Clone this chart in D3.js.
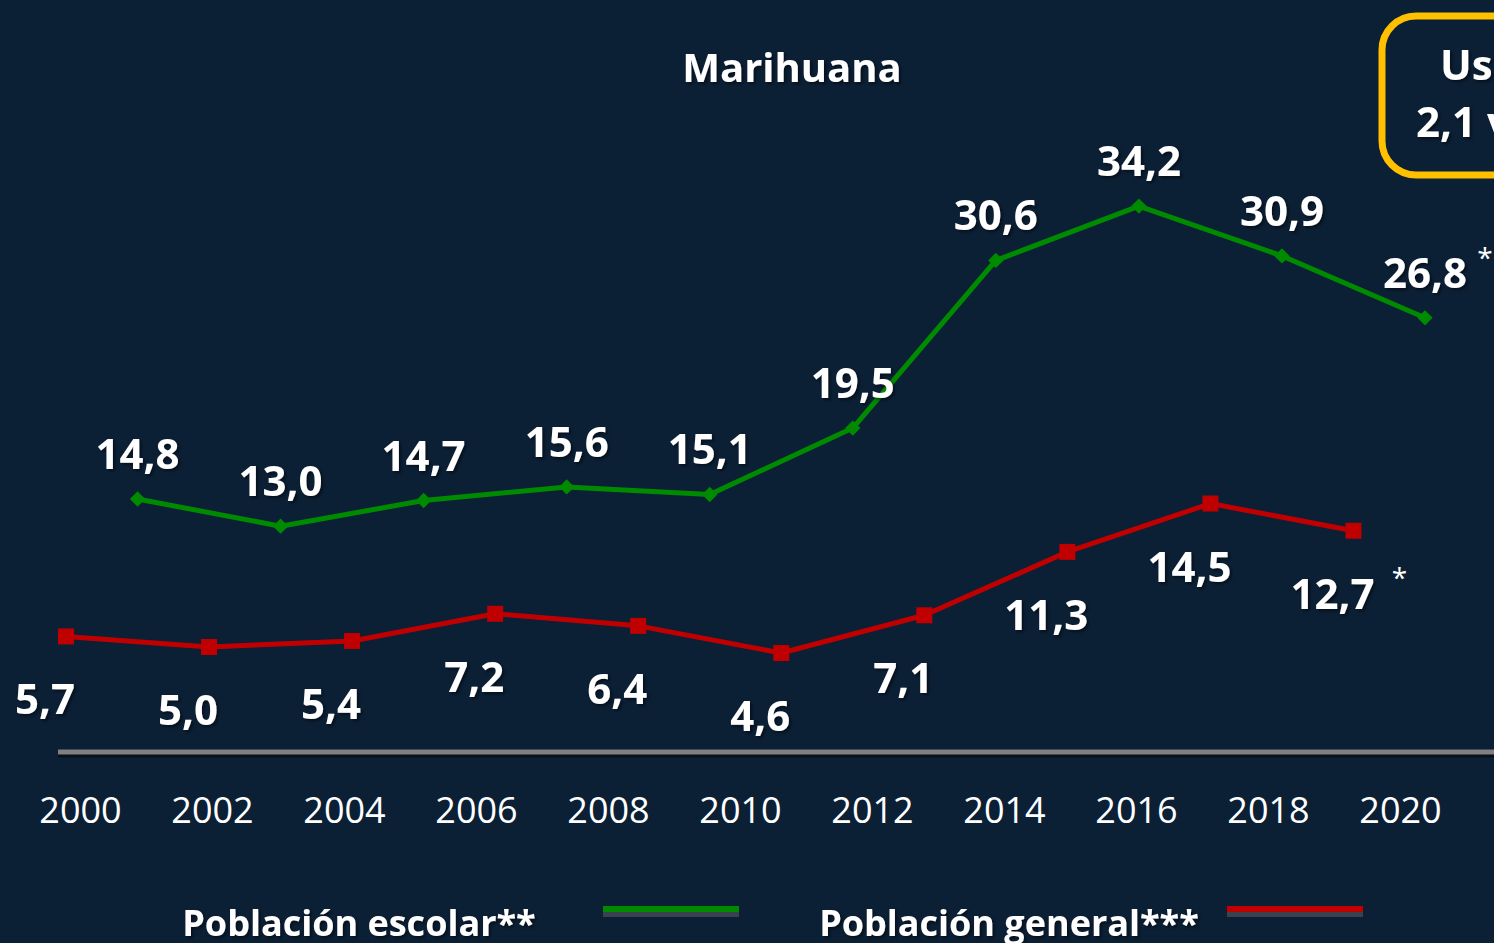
<!DOCTYPE html>
<html>
<head>
<meta charset="utf-8">
<script src="https://cdn.jsdelivr.net/npm/d3@7"></script>
<style>
  body { margin: 0; background: #0b1f35; }
  svg { display: block; }
  text { font-family: "Open Sans", sans-serif; fill: #fff; }
</style>
</head>
<body>
<div id="chart"></div>
<script>
const width = 1494, height = 943;

// data
const escolarYears = [2001, 2003, 2005, 2007, 2009, 2011, 2013, 2015, 2017, 2019];
const escolarValues = [14.8, 13.0, 14.7, 15.6, 15.1, 19.5, 30.6, 34.2, 30.9, 26.8];
const generalYears = [2000, 2002, 2004, 2006, 2008, 2010, 2012, 2014, 2016, 2018];
const generalValues = [5.7, 5.0, 5.4, 7.2, 6.4, 4.6, 7.1, 11.3, 14.5, 12.7];
const tickLabels = ['2000', '2002', '2004', '2006', '2008', '2010', '2012', '2014', '2016', '2018', '2020'];
const legendLabels = ['Población escolar**', 'Población general***'];

const green = '#008a00', red = '#c00000';
const fmt = v => d3.format('.1f')(v).replace('.', ',');

const svg = d3.select('#chart').append('svg')
    .attr('width', width)
    .attr('height', height);

svg.append('rect').attr('width', width).attr('height', height).attr('fill', '#0b1f35');

const defs = svg.append('defs');
defs.append('filter').attr('id', 'shadow')
    .attr('x', '-20%').attr('y', '-20%').attr('width', '140%').attr('height', '160%')
  .append('feDropShadow')
    .attr('dx', 2).attr('dy', 2).attr('stdDeviation', 1.5)
    .attr('flood-color', '#000').attr('flood-opacity', 0.5);

// scales
const x = d3.scaleLinear().domain([2000, 2019]).range([66, 1425]);
const y = d3.scaleLinear().domain([0, 40]).range([722.5, 118.5]);
const xTick = d3.scalePoint().domain(tickLabels).range([80, 1400]);

// title
svg.append('text')
    .attr('x', 792).attr('y', 82)
    .attr('text-anchor', 'middle')
    .attr('font-size', 40).attr('font-weight', 700)
    .attr('filter', 'url(#shadow)')
    .text('Marihuana');

// callout box (cut off at right edge, as in the original slide)
svg.append('rect')
    .attr('x', 1382).attr('y', 16)
    .attr('width', 260).attr('height', 159)
    .attr('rx', 34)
    .attr('fill', 'none')
    .attr('stroke', '#ffc000').attr('stroke-width', 7);
svg.append('text')
    .attr('x', 1440).attr('y', 80)
    .attr('font-size', 42).attr('font-weight', 700)
    .attr('filter', 'url(#shadow)')
    .text('Uso escolar');
svg.append('text')
    .attr('x', 1416).attr('y', 137)
    .attr('font-size', 42).attr('font-weight', 700)
    .attr('filter', 'url(#shadow)')
    .text('2,1 veces mayor');

// baseline axis
const axis = svg.append('g')
    .attr('transform', `translate(0,752)`)
    .call(d3.axisBottom(xTick).tickSize(0).tickPadding(45));
axis.select('.domain').remove();
axis.insert('line', ':first-child')
    .attr('x1', 58).attr('x2', width)
    .attr('y1', 3).attr('y2', 3)
    .attr('stroke', '#000').attr('stroke-opacity', 0.45).attr('stroke-width', 5);
axis.append('line')
    .attr('x1', 58).attr('x2', width)
    .attr('stroke', '#808080').attr('stroke-width', 5);
axis.selectAll('.tick text')
    .attr('font-size', 36)
    .attr('font-family', '"Open Sans", sans-serif')
    .attr('fill', '#fff')
    .attr('dy', '0.71em');

const line = d3.line().x(d => x(d[0])).y(d => y(d[1]));
const escolar = d3.zip(escolarYears, escolarValues);
const general = d3.zip(generalYears, generalValues);

// general (red)
svg.append('path')
    .datum(general)
    .attr('d', line)
    .attr('fill', 'none')
    .attr('stroke', red).attr('stroke-width', 5)
    .attr('stroke-linejoin', 'round');
svg.append('g').selectAll('rect')
    .data(general)
    .join('rect')
    .attr('x', d => x(d[0]) - 8).attr('y', d => y(d[1]) - 8)
    .attr('width', 16).attr('height', 16)
    .attr('fill', red);

// escolar (green)
svg.append('path')
    .datum(escolar)
    .attr('d', line)
    .attr('fill', 'none')
    .attr('stroke', green).attr('stroke-width', 5)
    .attr('stroke-linejoin', 'round');
svg.append('g').selectAll('path')
    .data(escolar)
    .join('path')
    .attr('d', d3.symbol(d3.symbolDiamond2, 150))
    .attr('transform', d => `translate(${x(d[0])},${y(d[1])})`)
    .attr('fill', green);

// value labels
svg.append('g').selectAll('text')
    .data(escolar)
    .join('text')
    .attr('x', d => x(d[0]))
    .attr('y', d => y(d[1]) - 30)
    .attr('text-anchor', 'middle')
    .attr('font-size', 42).attr('font-weight', 700)
    .attr('filter', 'url(#shadow)')
    .text(d => fmt(d[1]));

svg.append('g').selectAll('text')
    .data(general)
    .join('text')
    .attr('x', d => x(d[0]) - 21)
    .attr('y', d => y(d[1]) + 78)
    .attr('text-anchor', 'middle')
    .attr('font-size', 42).attr('font-weight', 700)
    .attr('filter', 'url(#shadow)')
    .text(d => fmt(d[1]));

// footnote asterisks on last points
const lastE = escolar[escolar.length - 1], lastG = general[general.length - 1];
svg.append('text')
    .attr('x', x(lastE[0]) + 60).attr('y', y(lastE[1]) - 50)
    .attr('text-anchor', 'middle').attr('font-size', 28)
    .text('*');
svg.append('text')
    .attr('x', x(lastG[0]) + 46).attr('y', y(lastG[1]) + 57)
    .attr('text-anchor', 'middle').attr('font-size', 28)
    .text('*');

// legend
const legend = svg.append('g');
const legendItems = [
  {label: legendLabels[0], color: green, tx: 359, sx: 603},
  {label: legendLabels[1], color: red, tx: 1009, sx: 1227}
];
legendItems.forEach(d => {
  legend.append('text')
      .attr('x', d.tx).attr('y', 936)
      .attr('text-anchor', 'middle')
      .attr('font-size', 36).attr('font-weight', 700)
      .attr('filter', 'url(#shadow)')
      .text(d.label);
  legend.append('rect')
      .attr('x', d.sx).attr('y', 912)
      .attr('width', 136).attr('height', 5)
      .attr('fill', '#3a4250');
  legend.append('rect')
      .attr('x', d.sx).attr('y', 906)
      .attr('width', 136).attr('height', 6)
      .attr('fill', d.color);
});
</script>
</body>
</html>
